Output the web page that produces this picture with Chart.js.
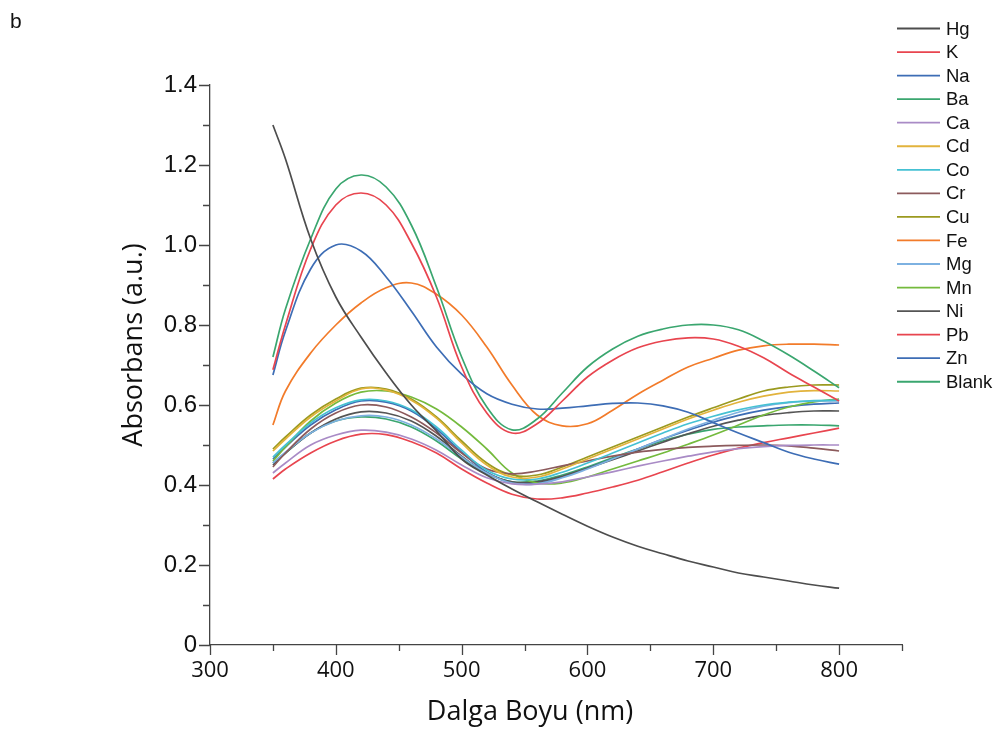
<!DOCTYPE html>
<html>
<head>
<meta charset="utf-8">
<script src="https://cdn.jsdelivr.net/npm/chart.js@4.4.1/dist/chart.umd.min.js"></script>
<style>
  html, body { margin: 0; padding: 0; background: #fff; }
  #wrap { width: 1005px; height: 731px; }
</style>
</head>
<body>
<div id="wrap"><canvas id="spectra" width="1005" height="731"></canvas></div>
<script>
// wavelength grid (nm)
const WAVELENGTHS = [350, 360, 380, 400, 420, 440, 460, 480, 500, 520, 540, 560, 580, 600, 620, 640, 660, 680, 700, 720, 740, 760, 780, 800];

const HG    = [1.30, 1.215, 1.015, 0.87, 0.77, 0.68, 0.60, 0.535, 0.465, 0.425, 0.39, 0.358, 0.327, 0.297, 0.27, 0.247, 0.228, 0.21, 0.195, 0.18, 0.17, 0.16, 0.15, 0.142];
const K     = [0.688, 0.80, 0.99, 1.10, 1.13, 1.10, 1.005, 0.87, 0.695, 0.58, 0.53, 0.553, 0.61, 0.67, 0.712, 0.743, 0.76, 0.768, 0.765, 0.747, 0.718, 0.68, 0.645, 0.61];
const NA    = [0.675, 0.785, 0.94, 1.0, 0.985, 0.92, 0.835, 0.745, 0.677, 0.628, 0.602, 0.59, 0.592, 0.598, 0.604, 0.605, 0.598, 0.582, 0.556, 0.53, 0.506, 0.482, 0.465, 0.452];
const BA    = [0.72, 0.84, 1.015, 1.14, 1.175, 1.145, 1.05, 0.895, 0.72, 0.595, 0.538, 0.565, 0.63, 0.695, 0.74, 0.772, 0.79, 0.80, 0.80, 0.788, 0.76, 0.725, 0.685, 0.643];
const CA    = [0.43, 0.455, 0.50, 0.525, 0.537, 0.532, 0.515, 0.487, 0.45, 0.418, 0.403, 0.402, 0.408, 0.42, 0.433, 0.447, 0.46, 0.472, 0.483, 0.491, 0.496, 0.499, 0.50, 0.50];
const CD    = [0.485, 0.515, 0.57, 0.61, 0.64, 0.637, 0.612, 0.567, 0.505, 0.45, 0.42, 0.42, 0.44, 0.465, 0.49, 0.515, 0.54, 0.565, 0.587, 0.607, 0.622, 0.632, 0.636, 0.635];
const CO    = [0.47, 0.50, 0.555, 0.593, 0.613, 0.61, 0.588, 0.545, 0.487, 0.437, 0.415, 0.415, 0.432, 0.455, 0.48, 0.505, 0.53, 0.553, 0.572, 0.588, 0.60, 0.607, 0.611, 0.612];
const CR    = [0.445, 0.48, 0.54, 0.58, 0.60, 0.595, 0.57, 0.53, 0.48, 0.44, 0.428, 0.435, 0.448, 0.46, 0.472, 0.482, 0.489, 0.494, 0.497, 0.499, 0.50, 0.498, 0.492, 0.485];
const CU    = [0.49, 0.52, 0.575, 0.615, 0.642, 0.64, 0.615, 0.57, 0.51, 0.455, 0.425, 0.425, 0.445, 0.47, 0.495, 0.52, 0.545, 0.57, 0.593, 0.615, 0.635, 0.645, 0.65, 0.65];
const FE    = [0.55, 0.635, 0.73, 0.80, 0.855, 0.893, 0.905, 0.877, 0.825, 0.745, 0.65, 0.575, 0.548, 0.553, 0.587, 0.627, 0.662, 0.695, 0.717, 0.737, 0.748, 0.752, 0.752, 0.75];
const MG    = [0.455, 0.482, 0.53, 0.56, 0.573, 0.57, 0.55, 0.515, 0.47, 0.43, 0.405, 0.403, 0.418, 0.44, 0.465, 0.49, 0.515, 0.54, 0.562, 0.582, 0.597, 0.606, 0.61, 0.61];
const MN    = [0.46, 0.495, 0.56, 0.605, 0.632, 0.635, 0.62, 0.59, 0.545, 0.49, 0.43, 0.405, 0.405, 0.42, 0.44, 0.46, 0.48, 0.502, 0.525, 0.55, 0.575, 0.595, 0.608, 0.615];
const NI    = [0.45, 0.48, 0.53, 0.565, 0.583, 0.58, 0.56, 0.522, 0.472, 0.43, 0.408, 0.408, 0.422, 0.442, 0.463, 0.485, 0.507, 0.528, 0.547, 0.562, 0.574, 0.581, 0.585, 0.585];
const PB    = [0.415, 0.44, 0.48, 0.51, 0.527, 0.526, 0.508, 0.48, 0.44, 0.405, 0.377, 0.365, 0.368, 0.38, 0.395, 0.412, 0.433, 0.455, 0.475, 0.492, 0.506, 0.518, 0.53, 0.542];
const ZN    = [0.465, 0.495, 0.55, 0.588, 0.61, 0.607, 0.585, 0.54, 0.482, 0.432, 0.405, 0.405, 0.42, 0.442, 0.465, 0.49, 0.515, 0.537, 0.557, 0.574, 0.587, 0.596, 0.602, 0.605];
const BLANK = [0.455, 0.48, 0.53, 0.56, 0.57, 0.565, 0.545, 0.51, 0.465, 0.428, 0.408, 0.41, 0.425, 0.445, 0.468, 0.49, 0.51, 0.527, 0.539, 0.545, 0.548, 0.55, 0.55, 0.548];

const LABELS = ['Hg', 'K', 'Na', 'Ba', 'Ca', 'Cd', 'Co', 'Cr', 'Cu', 'Fe', 'Mg', 'Mn', 'Ni', 'Pb', 'Zn', 'Blank'];
const VALUES = [HG, K, NA, BA, CA, CD, CO, CR, CU, FE, MG, MN, NI, PB, ZN, BLANK];
const COLORS = ['#4d4d4d', '#e8454f', '#3d6db5', '#3aa66f', '#a98bc6', '#e2b33c', '#45c1d3', '#8c5a5c', '#9b9a1f', '#f27b2a', '#7db1e1', '#74ba3d', '#555555', '#e8454f', '#3d6db5', '#3aa66f'];

const AXIS_COLOR = '#444';

const datasets = LABELS.map((label, i) => ({
  label,
  data: WAVELENGTHS.map((w, j) => ({ x: w, y: VALUES[i][j] })),
  borderColor: COLORS[i],
  backgroundColor: COLORS[i],
  borderWidth: 1.7,
  pointRadius: 0,
  tension: 0.4,
  fill: false
}));

// tick marks, axis titles, panel letter and legend
const decor = {
  id: 'decor',
  afterDraw(chart) {
    const { ctx, chartArea, scales: { x, y } } = chart;
    ctx.save();
    ctx.strokeStyle = AXIS_COLOR;
    ctx.lineWidth = 1.3;
    ctx.beginPath();
    x.ticks.forEach(t => {
      const px = Math.round(x.getPixelForValue(t.value)) + 0.5;
      const len = t.value % 100 === 0 ? 10 : 6;
      ctx.moveTo(px, chartArea.bottom);
      ctx.lineTo(px, chartArea.bottom + len);
    });
    y.ticks.forEach(t => {
      const py = Math.round(y.getPixelForValue(t.value)) + 0.5;
      const len = Math.round(t.value * 10) % 2 === 0 ? 11 : 7;
      ctx.moveTo(chartArea.left, py);
      ctx.lineTo(chartArea.left - len, py);
    });
    ctx.stroke();

    ctx.fillStyle = '#111';
    ctx.textAlign = 'center';
    ctx.textBaseline = 'middle';
    ctx.font = '27px "Open Sans"';
    ctx.fillText('Dalga Boyu (nm)', 530, 712);
    ctx.save();
    ctx.translate(134, 345);
    ctx.rotate(-Math.PI / 2);
    ctx.fillText('Absorbans (a.u.)', 0, 0);
    ctx.restore();

    ctx.textAlign = 'left';
    ctx.textBaseline = 'alphabetic';
    ctx.font = '21px "Liberation Sans"';
    ctx.fillText('b', 10, 28);

    ctx.font = '18.5px "Liberation Sans"';
    ctx.textBaseline = 'middle';
    chart.data.datasets.forEach((ds, i) => {
      const ly = 28.5 + i * 23.55;
      ctx.strokeStyle = ds.borderColor;
      ctx.lineWidth = 1.8;
      ctx.beginPath();
      ctx.moveTo(897, ly);
      ctx.lineTo(940, ly);
      ctx.stroke();
      ctx.fillStyle = '#111';
      ctx.fillText(ds.label, 946, ly + 1);
    });
    ctx.restore();
  }
};

new Chart(document.getElementById('spectra'), {
  type: 'line',
  data: { datasets },
  plugins: [decor],
  options: {
    responsive: false,
    animation: false,
    devicePixelRatio: 1,
    layout: { padding: { left: 110, right: 103, top: 85, bottom: 0 } },
    plugins: {
      legend: { display: false },
      tooltip: { enabled: false }
    },
    scales: {
      x: {
        type: 'linear',
        min: 300,
        max: 850,
        afterFit: s => { s.height = 86; },
        border: { display: true, color: AXIS_COLOR, width: 1.3 },
        grid: { display: false },
        ticks: {
          stepSize: 50,
          autoSkip: false,
          maxRotation: 0,
          padding: 5,
          color: '#111',
          font: { family: '"Open Sans"', size: 22 },
          callback: v => (v % 100 === 0 && v <= 800 ? String(v) : '')
        }
      },
      y: {
        min: 0,
        max: 1.4,
        afterFit: s => { s.width = 100; },
        border: { display: true, color: AXIS_COLOR, width: 1.3 },
        grid: { display: false },
        ticks: {
          stepSize: 0.1,
          autoSkip: false,
          padding: 5,
          color: '#111',
          font: { family: '"Liberation Sans"', size: 24 },
          callback: v => {
            const tenth = Math.round(v * 10);
            if (tenth % 2 !== 0) return '';
            return tenth === 0 ? '0' : (tenth / 10).toFixed(1);
          }
        }
      }
    }
  }
});
</script>
</body>
</html>
